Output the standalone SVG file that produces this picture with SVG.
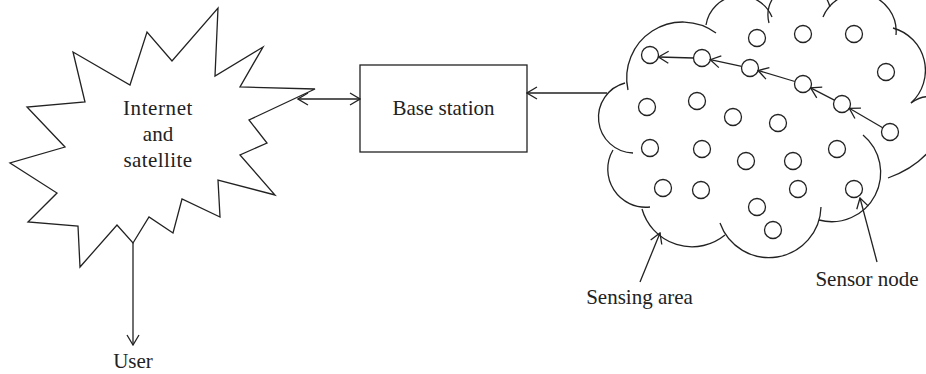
<svg xmlns="http://www.w3.org/2000/svg" width="926" height="374" viewBox="0 0 926 374">
<style>
.ln{fill:none;stroke:#222;stroke-width:1.3;stroke-linejoin:miter}
.nd{fill:#fff;stroke:#222;stroke-width:1.3}
.t{font-family:"Liberation Serif","Times New Roman",serif;font-size:21px;fill:#222;text-anchor:middle}
</style>
<defs>
<marker id="ah" viewBox="0 0 12 14" refX="11" refY="7" markerWidth="12" markerHeight="14" markerUnits="userSpaceOnUse" orient="auto-start-reverse">
<path d="M1,1 L11,7 L1,13" fill="none" stroke="#222" stroke-width="1.3"/>
</marker>
</defs>
<rect width="926" height="374" fill="#fff"/>
<g id="internet">
<polygon class="ln" points="218,8 215,76 263,47 240,87 315,89 249,120 267,143 240,155 275,195 218,180 220,217 182,199 173,233 149,217 133,243 117,225 80,267 78,226 28,222 57,193 10,163 65,147 27,107 85,102 73,52 130,85 147,32 172,61"/>
<text class="t" x="158" y="115" style="letter-spacing:0.6px">Internet</text>
<text class="t" x="158" y="141">and</text>
<text class="t" x="158" y="167" style="letter-spacing:0.4px">satellite</text>
</g>
<g id="base-station">
<rect class="ln" x="360" y="65" width="167" height="87"/>
<text class="t" x="443.5" y="115">Base station</text>
</g>
<g id="sensing-area">
<path class="ln" d="M628,90 A56,56 0 0 1 716,33"/>
<path class="ln" d="M706,25 A34.5,34.5 0 0 1 772,17"/>
<path class="ln" d="M769,23 A28,28 0 0 1 830,7"/>
<path class="ln" d="M823,17 A38,38 0 0 1 896,35"/>
<path class="ln" d="M893,28 A44,44 0 0 1 911,103"/>
<path class="ln" d="M911,103 C950,75 965,150 888,178"/>
<path class="ln" d="M863,135 A49,49 0 0 1 819,220"/>
<path class="ln" d="M720,223 A52,52 0 0 0 821,207"/>
<path class="ln" d="M642,209 A52,52 0 0 0 725,235"/>
<path class="ln" d="M613,150 A38,38 0 0 0 650,207"/>
<path class="ln" d="M625,83 A35.6,35.6 0 0 0 633,153"/>
</g>
<g id="sensor-nodes">
<circle class="nd" cx="650" cy="55" r="8.5"/>
<circle class="nd" cx="702" cy="58" r="8.5"/>
<circle class="nd" cx="750" cy="68" r="8.5"/>
<circle class="nd" cx="757" cy="38" r="8.5"/>
<circle class="nd" cx="803" cy="34" r="8.5"/>
<circle class="nd" cx="854" cy="34" r="8.5"/>
<circle class="nd" cx="886" cy="72" r="8.5"/>
<circle class="nd" cx="803" cy="84" r="8.5"/>
<circle class="nd" cx="842" cy="104" r="8.5"/>
<circle class="nd" cx="890" cy="132" r="8.5"/>
<circle class="nd" cx="647" cy="107" r="8.5"/>
<circle class="nd" cx="697" cy="101" r="8.5"/>
<circle class="nd" cx="733" cy="117" r="8.5"/>
<circle class="nd" cx="778" cy="123" r="8.5"/>
<circle class="nd" cx="650" cy="148" r="8.5"/>
<circle class="nd" cx="702" cy="149" r="8.5"/>
<circle class="nd" cx="746" cy="161" r="8.5"/>
<circle class="nd" cx="793" cy="161" r="8.5"/>
<circle class="nd" cx="837" cy="149" r="8.5"/>
<circle class="nd" cx="663" cy="188" r="8.5"/>
<circle class="nd" cx="701" cy="190" r="8.5"/>
<circle class="nd" cx="798" cy="189" r="8.5"/>
<circle class="nd" cx="854" cy="189" r="8.5"/>
<circle class="nd" cx="757" cy="207" r="8.5"/>
<circle class="nd" cx="773" cy="230" r="8.5"/>
</g>
<g id="labels">
<text class="t" x="639.5" y="304">Sensing area</text>
<text class="t" x="867" y="286">Sensor node</text>
<text class="t" x="133" y="368">User</text>
</g>
<g id="connectors">
<line class="ln" x1="298" y1="99" x2="360" y2="99" marker-start="url(#ah)" marker-end="url(#ah)"/>
<line class="ln" x1="607" y1="93" x2="527" y2="93" marker-end="url(#ah)"/>
<line class="ln" x1="133" y1="243" x2="133" y2="345" marker-end="url(#ah)"/>
<line class="ln" x1="882.7" y1="127.7" x2="849.3" y2="108.3" marker-end="url(#ah)"/>
<line class="ln" x1="834.4" y1="100.1" x2="810.6" y2="87.9" marker-end="url(#ah)"/>
<line class="ln" x1="794.9" y1="81.5" x2="758.1" y2="70.5" marker-end="url(#ah)"/>
<line class="ln" x1="741.7" y1="66.3" x2="710.3" y2="59.7" marker-end="url(#ah)"/>
<line class="ln" x1="693.5" y1="58" x2="658.5" y2="57" marker-end="url(#ah)"/>
<line class="ln" x1="640" y1="282" x2="660" y2="233" marker-end="url(#ah)"/>
<line class="ln" x1="877" y1="262" x2="860" y2="198" marker-end="url(#ah)"/>
</g>
</svg>
